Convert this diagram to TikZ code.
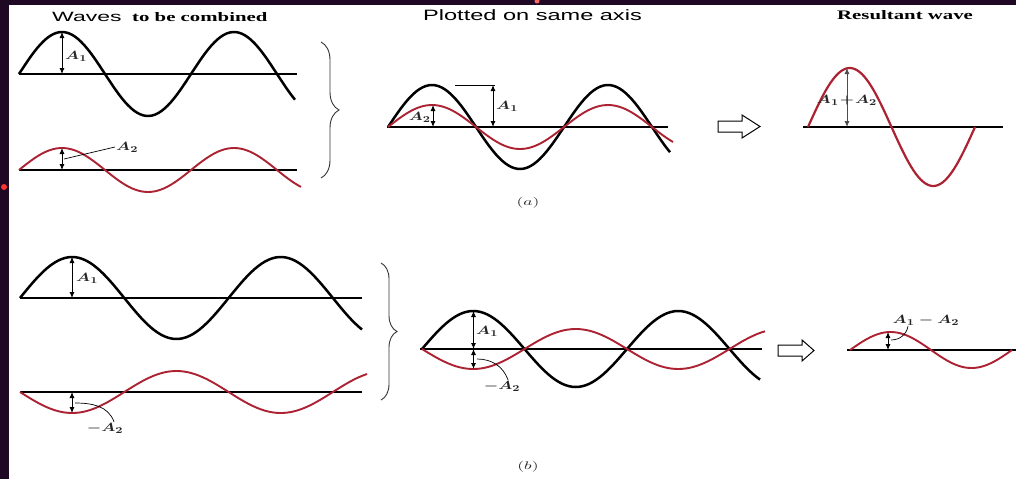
\documentclass[tikz,border=0pt]{standalone}
\usepackage{fontspec}
\setmainfont{Liberation Serif}
\setsansfont{Liberation Sans}
\usepackage{graphicx}
\usetikzlibrary{arrows.meta,decorations.pathreplacing}

\definecolor{wavered}{RGB}{172,34,50}
\definecolor{bgdark}{RGB}{30,8,36}
\newcommand{\wide}[1]{\scalebox{1.6}[1]{#1}}
\newcommand{\mwide}[1]{\scalebox{1.35}[1]{#1}}

\begin{document}
\begin{tikzpicture}[x=1pt, y=-1pt,
  axisline/.style={line width=1.5pt},
  blackwave/.style={line width=2.5pt},
  redwave/.style={wavered, line width=1.9pt},
  ampline/.style={line width=0.9pt, {Latex[length=6pt,width=5pt]}-{Latex[length=6pt,width=5pt]}},
  leader/.style={line width=0.7pt},
  mlabel/.style={inner sep=1pt, text=black!85, font=\fontsize{13}{14}\selectfont\boldmath},
  bracket/.style={line width=0.9pt, black!80, decorate, decoration={brace, amplitude=#1}}]
\useasboundingbox (0,0) rectangle (1016,479);
\fill[bgdark] (0,0) rectangle (1016,479);
\fill[white] (9,5) rectangle (1016,479);
\fill[red!80!white] (4,187) circle (3);
\fill[red!60!white] (537,1) circle (2.5);

% titles
\node[anchor=base west, inner sep=0pt, font=\fontsize{13.5}{14}\sffamily] (ttlw) at (52,21.5) {\scalebox{1.7}[1]{Waves}};
\node[anchor=base west, inner sep=0pt, font=\fontsize{13}{14}\bfseries] (ttlc) at (132,21.5) {\wide{to be combined}};
\node[anchor=base west, inner sep=0pt, font=\fontsize{15}{16}\sffamily] (ttlp) at (423,20.7) {\scalebox{1.57}[1]{Plotted on same axis}};
\node[anchor=base west, inner sep=0pt, font=\fontsize{13}{14}\bfseries] (ttlr) at (837,19.5) {\wide{Resultant wave}};

% (a) waves to be combined
\draw[axisline] (19,74) -- (297,74);
\draw[blackwave] plot[domain=19:295, samples=90] (\x, {74-42*sin((\x-19)/86*180)});
\coordinate (a1top) at (62,32);
\coordinate (a1bot) at (62,74);
\draw[ampline] (a1top) -- (a1bot);
\node[mlabel, anchor=west] (la1) at (64,56) {\mwide{$A_1$}};
\draw[axisline] (19,170) -- (297,170);
\draw[redwave] plot[domain=19:301, samples=90] (\x, {170-22*sin((\x-19)/86*180)});
\coordinate (a2top) at (62,148);
\coordinate (a2bot) at (62,170);
\draw[ampline] (a2top) -- (a2bot);
\node[mlabel, anchor=west] (la2) at (115,147) {\mwide{$A_2$}};
\draw[leader] (64,159) -- (la2.west);
\draw[bracket=18pt] (321,42) -- (321,178);

% (a) plotted on same axis
\draw[axisline] (387,127) -- (668,127);
\draw[blackwave] plot[domain=388:670, samples=90] (\x, {127-42*sin((\x-388)/88*180)});
\draw[redwave] plot[domain=388:673, samples=90] (\x, {127-22*sin((\x-388)/88*180)});
\draw[line width=0.9pt] (455,85) -- (495,85);
\coordinate (m1top) at (493,85);
\coordinate (m1bot) at (493,127);
\draw[ampline] (m1top) -- (m1bot);
\node[mlabel, anchor=west] (lm1) at (495,106) {\mwide{$A_1$}};
\coordinate (m2top) at (433,105);
\coordinate (m2bot) at (433,127);
\draw[ampline] (m2top) -- (m2bot);
\node[mlabel, anchor=east] (lm2) at (432,117) {\mwide{$A_2$}};
\node[mlabel, font=\fontsize{11}{12}\selectfont] (capa) at (528,203) {\wide{$(a)$}};

\draw[line width=1pt] (718,121) -- (742,121) -- (742,115) -- (760,126.5) -- (742,138) -- (742,132) -- (718,132) -- cycle;

% (a) resultant
\draw[axisline] (803,127) -- (1003,127);
\draw[redwave, line width=2.2pt] plot[domain=808:975, samples=90] (\x, {127-59*sin((\x-808)/83.5*180)});
\coordinate (r1top) at (847,68);
\coordinate (r1bot) at (847,127);
\draw[ampline, black!70] (r1top) -- (r1bot);
\node[mlabel] (lr1) at (847,100) {\mwide{$A_1\!+\!A_2$}};

% (b) waves to be combined
\draw[axisline] (20,298) -- (362,298);
\draw[blackwave] plot[domain=20:362, samples=100] (\x, {298-41*sin((\x-20)/104.3*180)});
\coordinate (b1top) at (72,257);
\coordinate (b1bot) at (72,298);
\draw[ampline] (b1top) -- (b1bot);
\node[mlabel, anchor=west] (lb1) at (75,278) {\mwide{$A_1$}};
\draw[axisline] (20,392) -- (362,392);
\draw[redwave] plot[domain=20:367, samples=100] (\x, {392+21*sin((\x-20)/104.3*180)});
\coordinate (b2top) at (72,392);
\coordinate (b2bot) at (72,413);
\draw[ampline] (b2top) -- (b2bot);
\node[mlabel] (lb2) at (105,428) {\mwide{$-A_2$}};
\draw[leader] (75,403) to[out=0, in=110] ([xshift=9pt]lb2.north);
\draw[bracket=16pt] (381,263) -- (381,400);

% (b) plotted on same axis
\draw[axisline] (420,349) -- (762,349);
\draw[blackwave] plot[domain=422:760, samples=100] (\x, {349-38*sin((\x-422)/102.5*180)});
\draw[redwave] plot[domain=422:765, samples=100] (\x, {349+20*sin((\x-422)/102.5*180)});
\coordinate (n1top) at (473.5,311);
\coordinate (n1bot) at (473.5,349);
\draw[ampline] (n1top) -- (n1bot);
\node[mlabel, anchor=west] (ln1) at (475,331) {\mwide{$A_1$}};
\coordinate (n2top) at (473.5,349);
\coordinate (n2bot) at (473.5,369);
\draw[ampline] (n2top) -- (n2bot);
\node[mlabel] (ln2) at (502,386) {\mwide{$-A_2$}};
\draw[leader] (477,359) to[out=0, in=110] ([xshift=6pt]ln2.north);
\node[mlabel, font=\fontsize{11}{12}\selectfont] (capb) at (528,467) {\wide{$(b)$}};

\draw[line width=1pt] (778,345) -- (802,345) -- (802,340) -- (814,350.5) -- (802,361) -- (802,356) -- (778,356) -- cycle;

% (b) resultant
\draw[axisline] (847,350) -- (1016,350);
\draw[redwave] plot[domain=850:1012, samples=80] (\x, {350-18*sin((\x-850)/81*180)});
\coordinate (s1top) at (888,332);
\coordinate (s1bot) at (888,350);
\draw[ampline] (s1top) -- (s1bot);
\node[mlabel] (ls1) at (926,320) {\mwide{$A_1-A_2$}};
\draw[leader] (891,340) to[out=0, in=-100] ([xshift=-18pt]ls1.south);
\end{tikzpicture}
\end{document}
